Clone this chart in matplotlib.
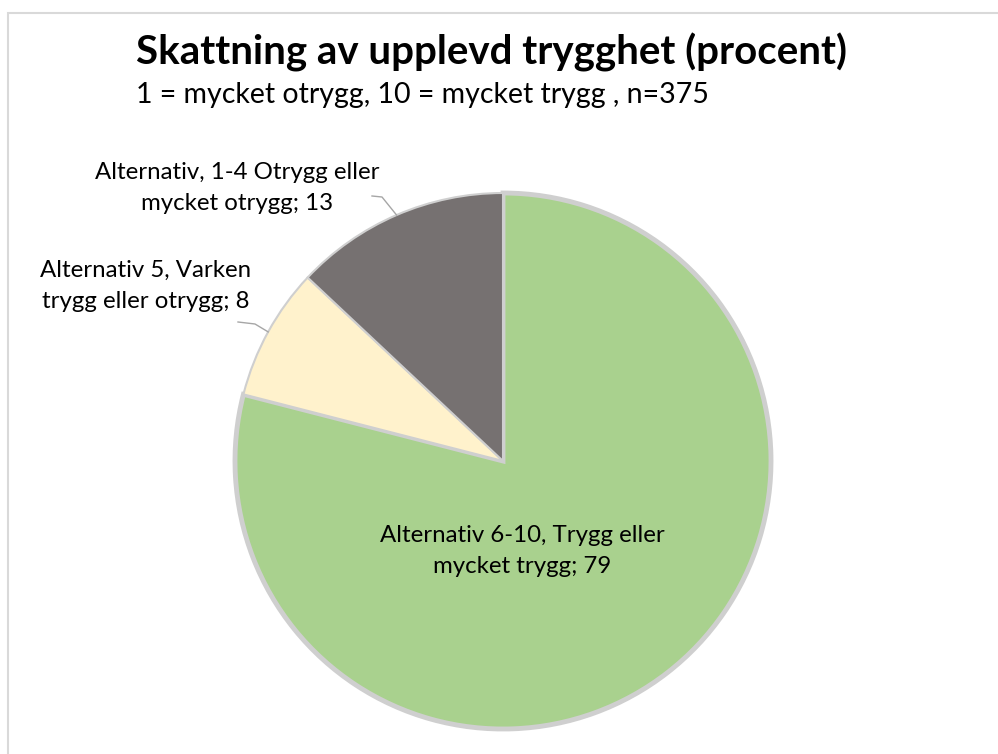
import numpy as np
import matplotlib
matplotlib.use("Agg")
import matplotlib.pyplot as plt
from matplotlib.patches import Rectangle

plt.rcParams['font.family'] = ['Lato', 'DejaVu Sans']

# data
labels = ["Alternativ 6-10, Trygg eller\nmycket trygg",
          "Alternativ 5, Varken\ntrygg eller otrygg",
          "Alternativ, 1-4 Otrygg eller\nmycket otrygg"]
values = [79, 8, 13]
colors = ["#A9D18E", "#FFF2CC", "#767171"]

title = "Skattning av upplevd trygghet (procent)"
subtitle = "1 = mycket otrygg, 10 = mycket trygg , n=375"

W, H = 998, 754
fig = plt.figure(figsize=(W / 100, H / 100), dpi=100)

# thin grey frame like the chart area border
fig.patches.append(Rectangle((8 / W, -0.01), 1.0, (H - 13) / H + 0.01, transform=fig.transFigure,
                             fill=False, edgecolor="#D9D9D9", linewidth=1.5))

fig.text(136 / W, 1 - 65 / H, title, fontsize=29, fontweight="bold", va="baseline", ha="left")
fig.text(136 / W, 1 - 103 / H, subtitle, fontsize=20.5, va="baseline", ha="left")

# pie axes: centre (503, 461) px, radius 268 px
cx, cy, r = 503, 461, 268
s = 1.02
ax = fig.add_axes([(cx - r * s) / W, (H - cy - r * s) / H, 2 * r * s / W, 2 * r * s / H])
wedges, _ = ax.pie(values, colors=colors, startangle=90, counterclock=False,
                   radius=1.0, wedgeprops=dict(edgecolor="#CFCFCF", linewidth=1.5))
wedges[0].set_linewidth(3.5)
ax.set_xlim(-s, s)
ax.set_ylim(-s, s)
ax.set_aspect("equal")
ax.axis("off")


def px(x, y):
    return (x - cx) / r, (cy - y) / r


# label positions (pixel centres) and elbow points for leader lines
text_pos = [(522, 551), (146, 286), (237, 188)]
elbows = [None, [(238, 322), (255, 324)], [(372, 196), (382, 197)]]

for i, (w, lab, v) in enumerate(zip(wedges, labels, values)):
    tx, ty = px(*text_pos[i])
    ax.text(tx, ty, f"{lab}; {v}", ha="center", va="center", fontsize=17.3,
            linespacing=1.58, clip_on=False)
    if elbows[i] is not None:
        mid = np.deg2rad((w.theta1 + w.theta2) / 2)
        pts = [px(*p) for p in elbows[i]] + [(np.cos(mid), np.sin(mid))]
        xs, ys = zip(*pts)
        ax.plot(xs, ys, color="#A6A6A6", linewidth=1, clip_on=False)

fig.savefig("out.png", dpi=100)
